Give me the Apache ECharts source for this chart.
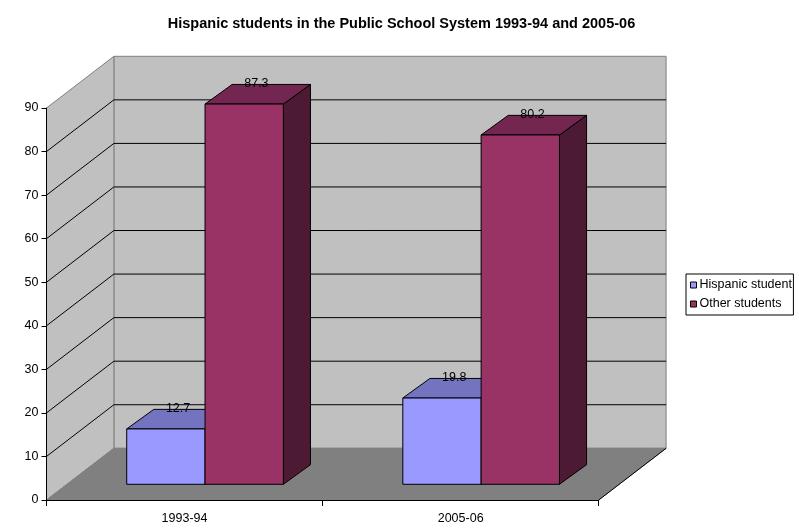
<!DOCTYPE html>
<html><head><meta charset="utf-8">
<style>html,body{margin:0;padding:0;background:#fff}#c{width:799px;height:530px}</style>
<script src="https://cdn.jsdelivr.net/npm/echarts@6/dist/echarts.min.js"></script>
</head><body><div id="c"></div>
<script>
const categories = ['1993-94', '2005-06'];
const hispanic = [12.7, 19.8];
const other = [87.3, 80.2];
const yTicks = [0, 10, 20, 30, 40, 50, 60, 70, 80, 90];
const titleText = 'Hispanic students in the Public School System 1993-94 and 2005-06';
const FONT = '"Liberation Sans", Arial, sans-serif';

// oblique projection of chart depth
const DX = 67.4, DY = -51.7;
const BAR_T0 = 0.304, BAR_T1 = 0.706;
const BAR_DEPTH_Y = -19.6;
const LABEL_T = 0.485;
const GAP = 59.7 / 276, BARW = 78.3 / 276;

function pt(p, t) { return [p[0] + DX * t, p[1] + DY * t]; }
function poly(points, fill, stroke) {
  return { type: 'polygon', shape: { points }, style: { fill, stroke: stroke || 'none', lineWidth: 1 } };
}
function plane(api) {
  const w = api.size([1, 0])[0];
  const c0 = api.coord([0, 0]);
  const left = c0[0] - w / 2, right = left + 2 * w;
  return { left, right, y: v => api.coord([0, v])[1] };
}
function renderWalls(params, api) {
  const { left, right, y } = plane(api);
  const top = y(90), bot = y(0);
  const A = [left, top], B = [left, bot], C = [right, bot];
  const Ab = pt(A, 1), Bb = pt(B, 1), Cb = pt(C, 1), Db = [Cb[0], Ab[1]];
  return { type: 'group', children: [
    poly([Ab, Db, Cb, Bb], '#c0c0c0', '#808080'),
    poly([A, Ab, Bb, B], '#c0c0c0', '#808080'),
    poly([B, Bb, Cb, C], '#808080', '#808080'),
    { type: 'line', shape: { x1: C[0], y1: C[1], x2: Cb[0], y2: Cb[1] }, style: { stroke: '#000', lineWidth: 1 } }
  ]};
}
function renderGrid(params, api) {
  const { left, right, y } = plane(api);
  const v = api.value(0), py = y(v);
  const a = [left, py], b = pt(a, 1), c = pt([right, py], 1);
  return { type: 'polyline', shape: { points: [a, b, c] }, style: { stroke: '#000', lineWidth: 1, fill: 'none' } };
}
function renderBar(seriesIndex, front, top, side) {
  return function (params, api) {
    const w = api.size([1, 0])[0];
    const cat = api.value(0), val = api.value(1);
    const c = api.coord([cat, val]), base = api.coord([cat, 0]);
    const x0 = c[0] - w / 2 + w * GAP + seriesIndex * w * BARW, x1 = x0 + w * BARW;
    const y1 = c[1], y0 = base[1];
    const p = (x, py) => pt([x, py], BAR_T0);
    const q = (x, py) => [x + DX * BAR_T1, py + DY * BAR_T0 + BAR_DEPTH_Y];
    const lx = (x0 + x1) / 2 + DX * LABEL_T, ly = q(x0, y1)[1] - 0.5;
    return { type: 'group', children: [
      poly([p(x1, y1), q(x1, y1), q(x1, y0), p(x1, y0)], side, '#000'),
      poly([p(x0, y1), p(x1, y1), q(x1, y1), q(x0, y1)], top, '#000'),
      poly([p(x0, y1), p(x1, y1), p(x1, y0), p(x0, y0)], front, '#000'),
      { type: 'text', style: { x: lx, y: ly, text: String(val), align: 'center', verticalAlign: 'middle',
        font: '12.5px ' + FONT, fill: '#000' }, z2: 20 }
    ]};
  };
}

const chart = echarts.init(document.getElementById('c'), null, { renderer: 'canvas' });
chart.setOption({
  animation: false,
  backgroundColor: '#fff',
  title: { text: titleText, left: 396.5, top: 11, textAlign: 'center',
    textStyle: { fontFamily: FONT, fontSize: 14.5, fontWeight: 'bold', color: '#000' } },
  legend: {
    data: ['Hispanic student', 'Other students'], orient: 'vertical', left: 686, top: 274,
    padding: [4, 1.5, 4, 4], itemGap: 5, itemWidth: 6, itemHeight: 6, icon: 'rect',
    backgroundColor: '#fff', borderColor: '#000', borderWidth: 1,
    selectedMode: false,
    textStyle: { fontFamily: FONT, fontSize: 12.5, lineHeight: 14, color: '#000', padding: [0, 0, 0, -2] },
    itemStyle: { borderColor: '#000', borderWidth: 1 }
  },
  grid: { left: 46.5, top: 108, width: 552.2, height: 392, containLabel: false },
  xAxis: { type: 'category', data: categories, z: 5,
    axisLine: { show: true, lineStyle: { color: '#000', width: 1 } },
    axisTick: { show: true, alignWithLabel: false, length: 6, lineStyle: { color: '#000' } },
    axisLabel: { fontFamily: FONT, fontSize: 12.5, color: '#000', margin: 12 },
    splitLine: { show: false } },
  yAxis: { type: 'value', min: 0, max: 90, interval: 10, z: 5,
    axisLine: { show: true, lineStyle: { color: '#000', width: 1 } },
    axisTick: { show: true, length: 5, lineStyle: { color: '#000' } },
    axisLabel: { fontFamily: FONT, fontSize: 12.5, color: '#000', margin: 8 },
    splitLine: { show: false } },
  series: [
    { type: 'custom', name: 'walls', z: 1, silent: true, data: [[0, 0]], renderItem: renderWalls },
    { type: 'custom', name: 'gridlines', z: 2, silent: true, encode: { y: 0 },
      data: yTicks.filter(v => v > 0 && v < 90).map(v => [v]), renderItem: renderGrid },
    { type: 'custom', name: 'Hispanic student', z: 3, silent: true, encode: { x: 0, y: 1 },
      itemStyle: { color: '#9999ff' },
      data: hispanic.map((v, i) => [i, v]), renderItem: renderBar(0, '#9999ff', '#7373bf', '#4d4d80') },
    { type: 'custom', name: 'Other students', z: 4, silent: true, encode: { x: 0, y: 1 },
      itemStyle: { color: '#993366' },
      data: other.map((v, i) => [i, v]), renderItem: renderBar(1, '#993366', '#732650', '#4d1a33') }
  ]
});
</script></body></html>
